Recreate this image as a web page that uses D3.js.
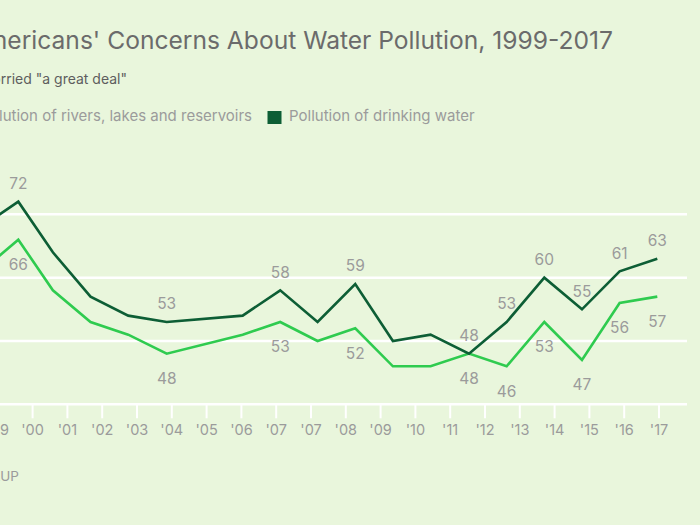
<!DOCTYPE html>
<html>
<head>
<meta charset="utf-8">
<script src="https://cdn.jsdelivr.net/npm/d3@7"></script>
<style>
  html, body { margin: 0; padding: 0; background: #e9f6dc; }
  svg { display: block; font-family: Inter, "Liberation Sans", Arial, sans-serif; }
</style>
</head>
<body>
<svg id="chart" width="700" height="525"></svg>
<script>
// ---- data ----
const surveyDates = ["1999-04-13", "2000-04-06", "2001-03-06", "2002-03-05", "2003-03-04", "2004-03-10", "2006-03-14", "2007-03-12", "2008-03-07", "2009-03-06", "2010-03-05", "2011-03-04", "2012-03-09", "2013-03-08", "2014-03-07", "2015-03-06", "2016-03-04", "2017-03-03"];
const drinkingWater = [68, 72, 64, 57, 54, 53, 54, 58, 53, 59, 50, 51, 48, 53, 60, 55, 61, 63];
const riversLakes = [61, 66, 58, 53, 51, 48, 51, 53, 50, 52, 46, 46, 48, 46, 53, 47, 56, 57];
const labeledYears = [1999, 2000, 2004, 2007, 2009, 2012, 2013, 2014, 2015, 2016, 2017];
const tickLabels = ["'99", "'00", "'01", "'02", "'03", "'04", "'05", "'06", "'07", "'07", "'08", "'09", "'10", "'11", "'12", "'13", "'14", "'15", "'16", "'17"];
const gridValues = [50, 60, 70];
const seriesNames = ["Pollution of rivers, lakes and reservoirs", "Pollution of drinking water"];
const titleText = "Americans' Concerns About Water Pollution, 1999-2017";
const subtitleText = "% Worried \"a great deal\"";
const sourceText = "GALLUP";

const colDark = "#0d5e35";
const colLight = "#2fcb4f";
const bg = "#e9f6dc";
const grey = "#9b9b9b";

const parse = d3.timeParse("%Y-%m-%d");
const dates = surveyDates.map(parse);

const svg = d3.select("#chart");
svg.append("rect").attr("width", 700).attr("height", 525).attr("fill", bg);

const x = d3.scaleTime().domain([parse("2004-03-10"), parse("2017-03-03")]).range([166.7, 657.3]);
const y = d3.scaleLinear().domain([40, 80]).range([404.3, 151]);
const xTicks = d3.scalePoint().domain(d3.range(tickLabels.length)).range([-2.7, 658.5]);

// gridlines
svg.append("g").selectAll("line").data(gridValues).join("line")
  .attr("x1", -40).attr("x2", 687)
  .attr("y1", d => y(d)).attr("y2", d => y(d))
  .attr("stroke", "#ffffff").attr("stroke-width", 2.5);

// x axis (categorical ticks)
const xAxis = d3.axisBottom(xTicks)
  .tickFormat(i => tickLabels[i])
  .tickSizeInner(14).tickSizeOuter(0).tickPadding(6);
const gx = svg.append("g").attr("transform", `translate(0,${y(40)})`).call(xAxis);
gx.select(".domain").remove();
gx.insert("line", ":first-child").attr("x1", -40).attr("x2", 687).attr("y1", 0).attr("y2", 0)
  .attr("stroke", "#ffffff").attr("stroke-width", 2.5);
gx.selectAll(".tick line").attr("stroke", "#ffffff").attr("stroke-width", 2);
gx.selectAll(".tick text").attr("fill", grey).attr("font-size", 14.5)
  .attr("font-family", "Inter, Liberation Sans, Arial, sans-serif");

// lines
const line = d3.line().x(d => x(d[0])).y(d => y(d[1]));
const lightData = dates.map((dt, i) => [dt, riversLakes[i]]);
const darkData = dates.map((dt, i) => [dt, drinkingWater[i]]);

svg.append("path").datum(lightData).attr("d", line)
  .attr("fill", "none").attr("stroke", colLight).attr("stroke-width", 2.6);
svg.append("path").datum(darkData).attr("d", line)
  .attr("fill", "none").attr("stroke", colDark).attr("stroke-width", 2.6);

// value labels
const isLabeled = d => labeledYears.includes(d[0].getFullYear());
const lbl = svg.append("g").attr("font-size", 15.5).attr("fill", grey).attr("text-anchor", "middle");
lbl.selectAll("text.d").data(darkData.filter(isLabeled)).join("text")
  .attr("class", "d")
  .attr("x", d => x(d[0])).attr("y", d => y(d[1]) - 12.8)
  .text(d => d[1]);
lbl.selectAll("text.l").data(lightData.filter(isLabeled)).join("text")
  .attr("class", "l")
  .attr("x", d => x(d[0])).attr("y", d => y(d[1]) + 30.5)
  .text(d => d[1]);

// title / subtitle
svg.append("text").attr("x", 613).attr("y", 49).attr("text-anchor", "end")
  .attr("font-size", 24.6).attr("fill", "#6b6b6b").text(titleText);
svg.append("text").attr("x", 127).attr("y", 84).attr("text-anchor", "end")
  .attr("font-size", 14).attr("fill", "#5e5e5e").text(subtitleText);

// legend
svg.append("rect").attr("x", 252 - 300).attr("y", 111).attr("width", 14).attr("height", 13).attr("fill", colLight);
svg.append("text").attr("x", 252).attr("y", 121).attr("text-anchor", "end")
  .attr("font-size", 15).attr("fill", grey).text(seriesNames[0]);
svg.append("rect").attr("x", 267.5).attr("y", 111).attr("width", 14).attr("height", 13).attr("fill", colDark);
svg.append("text").attr("x", 289).attr("y", 121)
  .attr("font-size", 15).attr("fill", grey).text(seriesNames[1]);

// source
svg.append("text").attr("x", 19).attr("y", 481).attr("text-anchor", "end")
  .attr("font-size", 13.5).attr("fill", grey).text(sourceText);
</script>
</body>
</html>
